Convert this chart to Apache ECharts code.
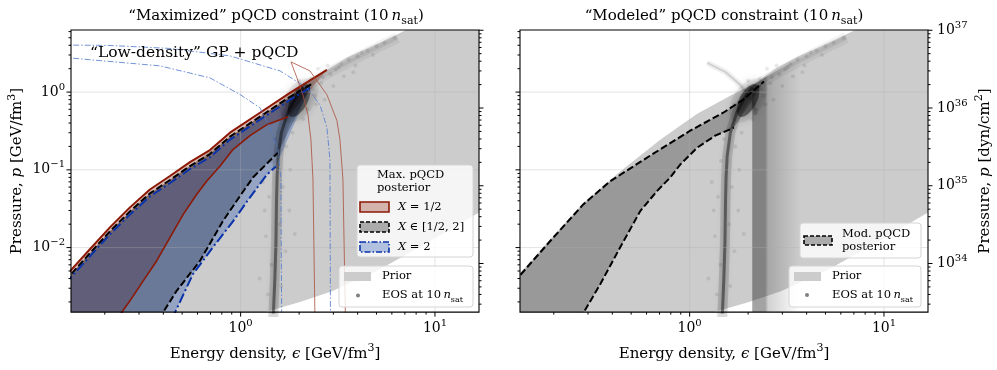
<!DOCTYPE html>
<html>
<head>
<meta charset="utf-8">
<title>pQCD constraints</title>
<script src="https://cdn.jsdelivr.net/npm/echarts@6.0.0/dist/echarts.min.js"></script>
<style>
  html, body { margin: 0; padding: 0; background: #fff; }
  #chart { width: 997px; height: 370px; }
</style>
</head>
<body>
<div id="chart"></div>
<script>
// energy density eps and pressure p, both in GeV/fm^3
const epsRange = [0.134, 16.85];
const pRange = [0.00148, 6.29];
const dynPerGeV = 1.602e36; // GeV/fm^3 -> dyn/cm^2

const decades = [0.001, 0.01, 0.1, 1, 10];
const dynDecades = [1e33, 1e34, 1e35, 1e36, 1e37];
const minorSteps = [2, 3, 4, 5, 6, 7, 8, 9];

// prior envelope
const priorUpperMax = [[0.1247, 0.00372], [0.2125, 0.0162], [0.3413, 0.0497], [0.5484, 0.1119], [0.881, 0.2673], [1.257, 0.4826], [1.794, 0.8704], [2.781, 1.931], [3.579, 2.836], [5.29, 4.415], [7.117, 6.292], [15.14, 15.25], [27.4, 27.5]];
const priorUpperMod = [[0.1247, 0.00381], [0.1917, 0.01277], [0.2835, 0.0375], [0.4393, 0.0951], [0.7058, 0.2446], [1.094, 0.5269], [1.618, 0.8966], [2.051, 1.204], [2.824, 2.049], [3.579, 2.836], [5.29, 4.415], [7.117, 6.292], [15.14, 15.25], [27.4, 27.5]];
const priorLower = [[0.1, 0.001], [0.881, 0.00115], [1.334, 0.00148], [2.02, 0.00199], [2.951, 0.002754], [5.21, 0.00527], [9.426, 0.01205], [16.85, 0.02836], [27.4, 0.0575]];

// "Maximized" pQCD posteriors
const halfUpper = [[0.1247, 0.00419], [0.1676, 0.00951], [0.2125, 0.0182], [0.2694, 0.0329], [0.3413, 0.0559], [0.4328, 0.0833], [0.5484, 0.1259], [0.695, 0.1794], [0.881, 0.3008], [1.257, 0.5429], [1.794, 0.9795], [2.781, 1.931]];
const halfLower = [[0.2309, 0.001205], [0.2694, 0.002066], [0.3152, 0.003733], [0.3696, 0.006735], [0.4327, 0.01343], [0.5065, 0.02673], [0.5936, 0.0482], [0.6683, 0.0714], [0.7824, 0.1112], [0.9128, 0.1821], [1.117, 0.2753], [1.366, 0.3808], [1.752, 0.4826]];
const midUpper = [[0.1247, 0.00372], [0.1676, 0.00845], [0.2125, 0.01618], [0.2694, 0.0292], [0.3413, 0.0497], [0.4328, 0.074], [0.5484, 0.1119], [0.695, 0.1594], [0.881, 0.2673], [1.257, 0.4826], [1.794, 0.8704], [2.328, 1.278]];
const midLower = [[0.3798, 0.001205], [0.4685, 0.00278], [0.6173, 0.006735], [0.811, 0.02193], [0.9917, 0.0459], [1.157, 0.0797], [1.334, 0.1135], [1.556, 0.1666]];
const twoUpper = [[0.1247, 0.0034], [0.1676, 0.00773], [0.2125, 0.01482], [0.2694, 0.02673], [0.3413, 0.0455], [0.4328, 0.0677], [0.5484, 0.1024], [0.695, 0.1459], [0.881, 0.2446], [1.257, 0.4414], [1.794, 0.7966], [2.273, 1.135]];
const twoLower = [[0.443, 0.001205], [0.568, 0.00455], [0.72, 0.0101], [0.913, 0.0217], [1.078, 0.0392], [1.366, 0.0871], [1.519, 0.1102]];

// "Low-density" GP + pQCD contours
const gpTwoOuter = [[0.12, 4.035], [0.2125, 3.98], [0.4327, 3.643], [0.881, 2.921], [1.593, 1.876], [2.194, 1.135], [2.559, 0.6874], [2.781, 0.3485], [2.881, 0.1356], [2.899, 0.0012]];
const gpTwoInner = [[0.12, 2.81], [0.3844, 2.174], [0.695, 1.525], [0.9917, 0.9316], [1.257, 0.629], [1.415, 0.3485], [1.556, 0.1821], [1.612, 0.0751], [1.626, 0.0012]];
const gpHalf = [[2.413, 0.0012], [2.356, 0.0751], [2.3, 0.2446], [2.22, 0.5117], [2.092, 0.9234], [1.949, 1.525], [1.815, 2.446], [2.273, 1.876], [2.781, 0.9234], [3.13, 0.4285], [3.244, 0.2446], [3.361, 0.0751], [3.463, 0.0012]];

// "Modeled" pQCD posterior and weight
const modUpper = [[0.1247, 0.00358], [0.1917, 0.01216], [0.2835, 0.0359], [0.3903, 0.0714], [0.6271, 0.1526], [1.007, 0.319], [1.489, 0.5428], [1.888, 0.8037], [2.413, 1.367]];
const modLower = [[0.2719, 0.0012], [0.3467, 0.00338], [0.4393, 0.0101], [0.5568, 0.02945], [0.6787, 0.0532], [0.7945, 0.0797], [0.8944, 0.1169], [1.094, 0.1931], [1.354, 0.2753], [1.69, 0.3485]];
const modColumn = [[2.1, 0.0009], [2.1, 1.2], [2.45, 1.55], [3.71, 2.8], [3.71, 0.0009]];
const modTail = [[1.232, 2.374], [1.525, 1.82], [1.821, 1.241], [2.092, 0.7966], [2.194, 0.5117]];

// EOS at 10 n_sat
const eosRidge = [[1.47, 0.0012], [1.5, 0.004], [1.52, 0.012], [1.53, 0.04], [1.54, 0.08], [1.56, 0.15], [1.62, 0.3], [1.75, 0.55], [1.92, 0.85], [2.1, 1.15]];
const eosEdge = [[2.05, 1.1], [2.8, 1.75], [3.6, 2.45], [5.0, 3.7], [6.4, 5.0]];
const eosBlob = [[2.0, 0.78]];
const eosDots = [[1.38, 0.0025], [1.62, 0.0032], [1.44, 0.006], [1.7, 0.009], [1.35, 0.014], [1.6, 0.02], [1.78, 0.03], [1.4, 0.045], [1.65, 0.06], [1.3, 0.07], [1.8, 0.1], [1.45, 0.13], [1.72, 0.2], [1.5, 0.25], [1.85, 0.3], [1.25, 0.004], [1.9, 0.015], [1.33, 0.03],
  [2.2, 0.6], [2.4, 0.9], [2.6, 1.3], [2.3, 1.5], [2.9, 1.7], [3.2, 2.1], [2.5, 2.0], [3.6, 2.6], [4.0, 2.9], [3.0, 1.2], [2.7, 0.8], [4.5, 3.4], [5.0, 3.9], [5.5, 4.3], [3.4, 1.6], [2.1, 0.45], [1.7, 0.7], [2.0, 1.4], [3.9, 2.2], [4.8, 3.0], [2.8, 2.2], [6.2, 5.0],
  [2.35, 1.1], [2.65, 1.55], [3.1, 1.95], [3.3, 2.3], [4.2, 3.2], [2.45, 0.7], [3.8, 1.8]];

const serif = '"DejaVu Serif", "Liberation Serif", serif';
const red = 'rgb(140,25,5)';
const blue = 'rgb(10,50,170)';
const corner = [[0.12, 0.001]];

function band(upper, lower) {
  return upper.concat(lower.slice().reverse(), corner);
}

function richFor(size) {
  return {
    i: { fontStyle: 'italic', fontSize: size, fontFamily: serif, color: '#000' },
    sup: { fontSize: Math.round(size * 0.7), fontFamily: serif, color: '#000', verticalAlign: 'top' },
    sub: { fontSize: Math.round(size * 0.7), fontFamily: serif, color: '#000', verticalAlign: 'bottom' }
  };
}

function powLabel(v) {
  const e = Math.log10(v);
  const r = Math.round(e);
  if (Math.abs(e - r) > 1e-6) return '';
  return '10{sup|' + (r < 0 ? '\u2212' + (-r) : r) + '}';
}

function poly(g, pts, fill, z) {
  return {
    type: 'custom', xAxisIndex: g, yAxisIndex: 2 * g, z: z, silent: true,
    data: [[1, 1]],
    renderItem: function (params, api) {
      const cs = params.coordSys;
      return {
        type: 'polygon',
        shape: { points: pts.map(d => api.coord(d)) },
        style: { fill: fill },
        clipPath: { type: 'rect', shape: { x: cs.x, y: cs.y, width: cs.width, height: cs.height } }
      };
    }
  };
}

function line(g, pts, color, width, type, z, extra) {
  return {
    type: 'line', xAxisIndex: g, yAxisIndex: 2 * g, data: pts, z: z,
    symbol: 'none', showSymbol: false, silent: true, clip: true,
    lineStyle: Object.assign({ color: color, width: width, type: type || 'solid' }, extra || {})
  };
}

function eosSeries(g) {
  return [
    line(g, eosEdge, 'rgba(0,0,0,0.05)', 11, 'solid', 3),
    line(g, eosEdge, 'rgba(0,0,0,0.07)', 4, 'solid', 3),
    line(g, eosRidge, 'rgba(0,0,0,0.12)', 10, 'solid', 3, { shadowBlur: 6, shadowColor: 'rgba(0,0,0,0.25)' }),
    line(g, eosRidge, 'rgba(0,0,0,0.42)', 3, 'solid', 3, { shadowBlur: 4, shadowColor: 'rgba(0,0,0,0.5)' }),
    {
      type: 'scatter', xAxisIndex: g, yAxisIndex: 2 * g, data: eosDots, z: 3, silent: true,
      symbolSize: 4, itemStyle: { color: 'rgba(0,0,0,0.11)' }
    },
    {
      type: 'scatter', xAxisIndex: g, yAxisIndex: 2 * g, data: eosBlob, z: 3, silent: true,
      symbolSize: [30, 50], symbolRotate: -35,
      itemStyle: { color: 'rgba(0,0,0,0.08)', shadowBlur: 14, shadowColor: 'rgba(0,0,0,0.25)' }
    },
    {
      type: 'scatter', xAxisIndex: g, yAxisIndex: 2 * g, data: eosBlob, z: 3, silent: true,
      symbolSize: [17, 36], symbolRotate: -28,
      itemStyle: { color: 'rgba(0,0,0,0.55)', shadowBlur: 12, shadowColor: 'rgba(0,0,0,0.8)' }
    }
  ];
}

function gridLines(g) {
  return {
    type: 'custom', xAxisIndex: g, yAxisIndex: 2 * g, z: 4, silent: true, data: [[1, 1]],
    renderItem: function (params, api) {
      const cs = params.coordSys;
      const kids = [];
      const st = { stroke: 'rgba(176,176,176,0.35)', lineWidth: 1 };
      decades.forEach(v => {
        if (v > epsRange[0] && v < epsRange[1]) {
          const x = api.coord([v, 1])[0];
          kids.push({ type: 'line', shape: { x1: x, y1: cs.y, x2: x, y2: cs.y + cs.height }, style: st });
        }
        if (v > pRange[0] && v < pRange[1]) {
          const y = api.coord([1, v])[1];
          kids.push({ type: 'line', shape: { x1: cs.x, y1: y, x2: cs.x + cs.width, y2: y }, style: st });
        }
      });
      return { type: 'group', children: kids };
    }
  };
}

function frame(g) {
  return {
    type: 'custom', xAxisIndex: g, yAxisIndex: 2 * g, z: 20, silent: true, data: [[1, 1]],
    renderItem: function (params, api) {
      const cs = params.coordSys;
      const kids = [];
      const tick = (x1, y1, x2, y2) => kids.push({ type: 'line', shape: { x1, y1, x2, y2 }, style: { stroke: '#000', lineWidth: 1 } });
      const bottom = cs.y + cs.height;
      decades.forEach(d => {
        [1].concat(minorSteps).forEach(m => {
          const v = d * m;
          const len = m === 1 ? 4.5 : 2.5;
          if (v >= epsRange[0] && v <= epsRange[1]) {
            const x = api.coord([v, 1])[0];
            tick(x, bottom, x, bottom + len);
          }
          if (v >= pRange[0] && v <= pRange[1]) {
            const y = api.coord([1, v])[1];
            tick(cs.x, y, cs.x - len, y);
          }
        });
      });
      kids.push({ type: 'rect', shape: { x: cs.x, y: cs.y, width: cs.width, height: cs.height }, style: { fill: 'none', stroke: '#000', lineWidth: 1.1 } });
      return { type: 'group', children: kids };
    }
  };
}

function dynTicks(g) {
  return {
    type: 'custom', xAxisIndex: g, yAxisIndex: 2 * g + 1, z: 20, silent: true, data: [[1, 1e35]],
    renderItem: function (params, api) {
      const cs = params.coordSys;
      const kids = [];
      const right = cs.x + cs.width;
      dynDecades.forEach(d => {
        [1].concat(minorSteps).forEach(m => {
          const v = d * m;
          if (v >= pRange[0] * dynPerGeV && v <= pRange[1] * dynPerGeV) {
            const y = api.coord([1, v])[1];
            const len = m === 1 ? 4.5 : 2.5;
            kids.push({ type: 'line', shape: { x1: right, y1: y, x2: right + len, y2: y }, style: { stroke: '#000', lineWidth: 1 } });
          }
        });
      });
      return { type: 'group', children: kids };
    }
  };
}

const prior = '#cccccc';
const series = [
  // left panel: maximized pQCD
  poly(0, priorUpperMax.concat(priorLower.slice().reverse()), prior, 1),
  poly(0, band(halfUpper, halfLower), 'rgba(140,25,5,0.3)', 2),
  poly(0, band(midUpper, midLower), 'rgba(0,0,0,0.3)', 2),
  poly(0, band(twoUpper, twoLower), 'rgba(22,72,172,0.3)', 2)
].concat(eosSeries(0), [
  gridLines(0),
  line(0, halfUpper, red, 2, 'solid', 5),
  line(0, halfLower, red, 1.6, 'solid', 5),
  line(0, midUpper, '#000', 2, [7, 3], 5),
  line(0, midLower, '#000', 2, [7, 3], 5),
  line(0, twoUpper, blue, 2, [10, 3, 2, 3], 5),
  line(0, twoLower, blue, 2, [10, 3, 2, 3], 5),
  line(0, gpTwoOuter, 'rgba(80,120,205,0.8)', 1, [6, 2, 1.5, 2], 6),
  line(0, gpTwoInner, 'rgba(80,120,205,0.8)', 1, [6, 2, 1.5, 2], 6),
  line(0, gpHalf, 'rgba(170,80,60,0.8)', 1, 'solid', 6),
  frame(0),
  dynTicks(0),
  // right panel: modeled pQCD
  poly(1, priorUpperMod.concat(priorLower.slice().reverse()), prior, 1),
  poly(1, band(modUpper, modLower), 'rgba(0,0,0,0.25)', 2),
  {
    type: 'custom', xAxisIndex: 1, yAxisIndex: 2, z: 2, silent: true, data: [[1, 1]],
    renderItem: function (params, api) {
      const cs = params.coordSys;
      return {
        type: 'polygon',
        shape: { points: modColumn.map(d => api.coord(d)) },
        style: {
          fill: new echarts.graphic.LinearGradient(0, 0, 1, 0, [
            { offset: 0, color: 'rgba(0,0,0,0.36)' },
            { offset: 0.27, color: 'rgba(0,0,0,0.36)' },
            { offset: 0.33, color: 'rgba(0,0,0,0.18)' },
            { offset: 1, color: 'rgba(0,0,0,0)' }
          ])
        },
        clipPath: { type: 'rect', shape: { x: cs.x, y: cs.y, width: cs.width, height: cs.height } }
      };
    }
  },
  line(1, modTail, 'rgba(0,0,0,0.05)', 6, 'solid', 3),
  line(1, modTail, 'rgba(0,0,0,0.13)', 2, 'solid', 3, { shadowBlur: 5, shadowColor: 'rgba(0,0,0,0.3)' })
], eosSeries(1), [
  gridLines(1),
  line(1, modUpper, '#000', 2, [7, 3], 5),
  line(1, modLower, '#000', 2, [7, 3], 5),
  frame(1),
  dynTicks(1)
]);

function xAxis(g) {
  return {
    type: 'log', gridIndex: g, min: epsRange[0], max: epsRange[1],
    axisLine: { show: false }, axisTick: { show: false }, splitLine: { show: false },
    axisLabel: { formatter: powLabel, margin: 6, color: '#000', fontFamily: serif, fontSize: 14, lineHeight: 20, rich: richFor(14) },
    name: 'Energy density, {i|\u03f5} [GeV/fm{sup|3}]', nameLocation: 'middle', nameGap: 24,
    nameTextStyle: { color: '#000', fontFamily: serif, fontSize: 15, lineHeight: 22, rich: richFor(15) }
  };
}

function yAxis(g, dyn, showLabel, name) {
  const ax = {
    type: 'log', gridIndex: g, position: dyn ? 'right' : 'left',
    min: dyn ? pRange[0] * dynPerGeV : pRange[0],
    max: dyn ? pRange[1] * dynPerGeV : pRange[1],
    axisLine: { show: false }, axisTick: { show: false }, splitLine: { show: false },
    axisLabel: { show: showLabel, formatter: powLabel, margin: dyn ? 9 : 6, color: '#000', fontFamily: serif, fontSize: 14, lineHeight: 20, rich: richFor(14) }
  };
  if (name) {
    Object.assign(ax, {
      name: name, nameLocation: 'middle', nameRotate: 90, nameGap: dyn ? 46 : 42,
      nameTextStyle: { color: '#000', fontFamily: serif, fontSize: 15, lineHeight: 22, rich: richFor(15) }
    });
  }
  return ax;
}

function txt(x, y, text, size, align) {
  return {
    type: 'text', x: x, y: y, z: 101, silent: true,
    style: {
      text: text, fill: '#000', fontSize: size, fontFamily: serif,
      align: align || 'left', verticalAlign: 'middle', textAlign: align || 'left', textVerticalAlign: 'middle',
      lineHeight: Math.round(size * 1.4), rich: richFor(size)
    }
  };
}

function box(x, y, w, h) {
  return { type: 'rect', z: 100, silent: true, shape: { x: x, y: y, width: w, height: h, r: 3 }, style: { fill: 'rgba(255,255,255,0.8)', stroke: '#d4d4d4', lineWidth: 1 } };
}

function patch(x, y, w, h, fill, stroke, dash) {
  return { type: 'rect', z: 101, silent: true, shape: { x: x, y: y, width: w, height: h }, style: { fill: fill, stroke: stroke || null, lineWidth: 1.6, lineDash: dash || null } };
}

const graphic = [
  txt(276, 16, '\u201cMaximized\u201d pQCD constraint (10\u2009{i|n}{sub|sat})', 15, 'center'),
  txt(724, 16, '\u201cModeled\u201d pQCD constraint (10\u2009{i|n}{sub|sat})', 15, 'center'),
  txt(90, 53, '\u201cLow-density\u201d GP + pQCD', 15.5, 'left'),
  // left legends
  box(357, 165, 116, 92),
  txt(377, 175, 'Max. pQCD', 11.5),
  txt(377, 188, 'posterior', 11.5),
  patch(360, 202, 29, 10, 'rgba(140,25,5,0.3)', red),
  txt(398, 207, '{i|X} = 1/2', 11.5),
  patch(360, 222, 29, 10, 'rgba(0,0,0,0.3)', '#000', [4, 2]),
  txt(398, 227, '{i|X} \u2208 [1/2, 2]', 11.5),
  patch(360, 242, 29, 10, 'rgba(22,72,172,0.3)', blue, [6, 2, 1.5, 2]),
  txt(398, 247, '{i|X} = 2', 11.5),
  box(339, 266, 134, 41),
  patch(344, 272, 27, 9, prior),
  txt(382, 276.5, 'Prior', 11.5),
  { type: 'circle', z: 101, silent: true, shape: { cx: 358, cy: 295.5, r: 2 }, style: { fill: '#808080' } },
  txt(382, 295.5, 'EOS at 10\u2009{i|n}{sub|sat}', 11.5),
  // right legends
  box(800, 223, 121, 35),
  patch(804, 236, 28, 9, 'rgba(0,0,0,0.3)', '#000', [4, 2]),
  txt(842, 234, 'Mod. pQCD', 11.5),
  txt(842, 247, 'posterior', 11.5),
  box(789, 266, 132, 41),
  patch(794, 272, 27, 9, prior),
  txt(832, 276.5, 'Prior', 11.5),
  { type: 'circle', z: 101, silent: true, shape: { cx: 807, cy: 295, r: 2 }, style: { fill: '#808080' } },
  txt(832, 295.5, 'EOS at 10\u2009{i|n}{sub|sat}', 11.5)
];

const chart = echarts.init(document.getElementById('chart'), null, { renderer: 'canvas' });
chart.setOption({
  animation: false,
  backgroundColor: '#fff',
  grid: [
    { left: 71, top: 30, width: 408, height: 283 },
    { left: 520, top: 30, width: 409, height: 283 }
  ],
  xAxis: [xAxis(0), xAxis(1)],
  yAxis: [
    yAxis(0, false, true, 'Pressure, {i|p} [GeV/fm{sup|3}]'),
    yAxis(0, true, false, null),
    yAxis(1, false, false, null),
    yAxis(1, true, true, 'Pressure, {i|p} [dyn/cm{sup|2}]')
  ],
  graphic: graphic,
  series: series
});
</script>
</body>
</html>
